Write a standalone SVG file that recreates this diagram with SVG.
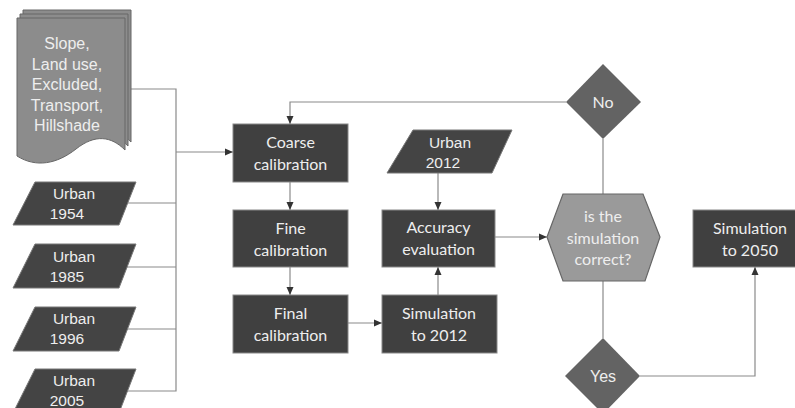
<svg xmlns="http://www.w3.org/2000/svg" width="795" height="408" viewBox="0 0 795 408">
<defs>
<marker id="arr" viewBox="0 0 8 8" refX="8" refY="4" markerWidth="8" markerHeight="8" markerUnits="userSpaceOnUse" orient="auto">
<path d="M0,0.5 L8,4 L0,7.5 Z" fill="#333"/>
</marker>
<path id="doc" d="M17,18 H125 V150 C111,136 95,134 76,149 C57,164 36,168 17,156 Z"/>
</defs>
<style>
.rect{fill:#404040;stroke:#888;stroke-width:1}
.para{fill:#444;stroke:#777;stroke-width:1}
.lt{font-family:Lato,"Liberation Sans",sans-serif;font-size:16px;fill:#eee;text-anchor:middle}
.ar{font-family:"Liberation Sans",Arial,sans-serif;font-size:16px;fill:#eee;text-anchor:middle}
.ur{font-family:"Liberation Sans",Arial,sans-serif;font-size:15.5px;fill:#eee;text-anchor:middle}
.cn{fill:none;stroke:#8a8a8a;stroke-width:1.2}
.cna{fill:none;stroke:#8a8a8a;stroke-width:1.2;marker-end:url(#arr)}
</style>
<rect width="795" height="408" fill="#fff"/>

<g id="connectors">
<polyline class="cn" points="125,89 176,89 176,391 113,391"/>
<line class="cn" x1="124" y1="203" x2="176" y2="203"/>
<line class="cn" x1="124" y1="267" x2="176" y2="267"/>
<line class="cn" x1="124" y1="329" x2="176" y2="329"/>
<line class="cna" x1="176" y1="152" x2="233" y2="152"/>
<polyline class="cna" points="566,102 290,102 290,124"/>
<line class="cna" x1="290" y1="182" x2="290" y2="210"/>
<line class="cna" x1="290" y1="267" x2="290" y2="295"/>
<line class="cna" x1="348" y1="323" x2="382" y2="323"/>
<line class="cna" x1="438" y1="295" x2="438" y2="267"/>
<line class="cna" x1="438" y1="173" x2="438" y2="210"/>
<line class="cna" x1="495" y1="237" x2="547" y2="237"/>
<line class="cn" x1="603" y1="139" x2="603" y2="194"/>
<line class="cn" x1="603" y1="281" x2="603" y2="338"/>
<polyline class="cna" points="640,376 755,376 755,267"/>
</g>

<g id="doc-inputs">
<use href="#doc" transform="translate(6,-8)" fill="#8c8c8c" stroke="#666"/>
<use href="#doc" transform="translate(3,-4)" fill="#8c8c8c" stroke="#666"/>
<use href="#doc" fill="#8c8c8c" stroke="#666"/>
<text class="ar" x="67" y="49">Slope,</text>
<text class="ar" x="67" y="69.5">Land use,</text>
<text class="ar" x="67" y="90">Excluded,</text>
<text class="ar" x="67" y="110.5">Transport,</text>
<text class="ar" x="67" y="131">Hillshade</text>
</g>

<g id="urban1954">
<polygon class="para" points="35,182 136,182 119,225 13,225"/>
<text class="ur" x="74" y="198.5">Urban</text>
<text class="ur" x="67" y="218.5">1954</text>
</g>
<g id="urban1985">
<polygon class="para" points="35,244 136,244 119,288 13,288"/>
<text class="ur" x="74" y="261.5">Urban</text>
<text class="ur" x="67" y="281.5">1985</text>
</g>
<g id="urban1996">
<polygon class="para" points="35,307 136,307 119,351 13,351"/>
<text class="ur" x="74" y="323.5">Urban</text>
<text class="ur" x="67" y="343.5">1996</text>
</g>
<g id="urban2005">
<polygon class="para" points="35,369 136,369 119,413 13,413"/>
<text class="ur" x="74" y="385.5">Urban</text>
<text class="ur" x="67" y="405.5">2005</text>
</g>

<g id="coarse">
<rect class="rect" x="233" y="124" width="115" height="58"/>
<text class="lt" x="290.5" y="148">Coarse</text>
<text class="lt" x="290.5" y="170">calibration</text>
</g>
<g id="fine">
<rect class="rect" x="233" y="210" width="115" height="57"/>
<text class="lt" x="290.5" y="234">Fine</text>
<text class="lt" x="290.5" y="256">calibration</text>
</g>
<g id="final">
<rect class="rect" x="233" y="295" width="115" height="58"/>
<text class="lt" x="290.5" y="319">Final</text>
<text class="lt" x="290.5" y="341">calibration</text>
</g>
<g id="sim2012">
<rect class="rect" x="382" y="295" width="115" height="58"/>
<text class="lt" x="439" y="319">Simulation</text>
<text class="lt" x="439" y="341">to 2012</text>
</g>
<g id="accuracy">
<rect class="rect" x="382" y="210" width="113" height="57"/>
<text class="lt" x="438.5" y="233">Accuracy</text>
<text class="lt" x="438.5" y="255">evaluation</text>
</g>
<g id="urban2012">
<polygon class="para" points="413,130 512,130 492,173 387,173"/>
<text class="ur" x="450" y="147.5">Urban</text>
<text class="ur" x="443" y="167.5">2012</text>
</g>
<g id="decision">
<polygon points="563,194 643,194 660,237 645,281 563,281 547,237" fill="#9a9a9a" stroke="#666" stroke-width="1.2"/>
<text class="lt" x="603" y="222">is the</text>
<text class="lt" x="603" y="243.5">simulation</text>
<text class="lt" x="603" y="265">correct?</text>
</g>
<g id="no">
<polygon points="603,64 641,102 603,139 566,102" fill="#636363"/>
<text class="lt" x="603" y="108">No</text>
</g>
<g id="yes">
<polygon points="603,338 640,376 603,414 565,376" fill="#636363"/>
<text class="ar" x="603" y="382">Yes</text>
</g>
<g id="sim2050">
<rect class="rect" x="693" y="210" width="115" height="57"/>
<text class="lt" x="750" y="234">Simulation</text>
<text class="lt" x="750" y="256">to 2050</text>
</g>
</svg>
